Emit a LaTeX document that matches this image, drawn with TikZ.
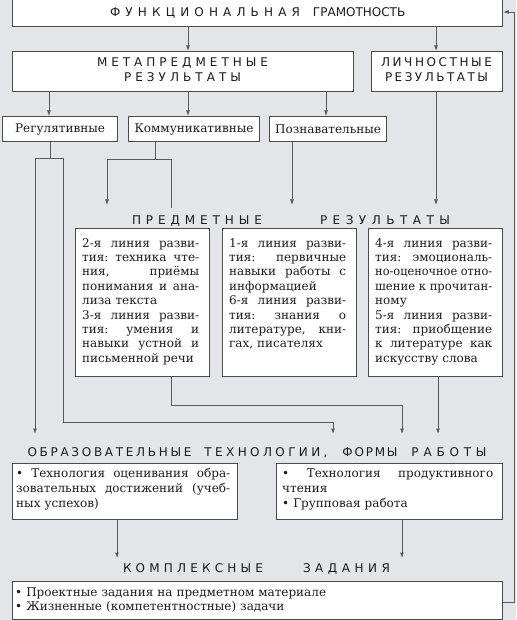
\documentclass[tikz,border=0pt]{standalone}
\usepackage{fontspec}
\usepackage{graphicx}
\setmainfont{DejaVu Serif}
\newfontfamily\hdfont{DejaVu Sans}
\usetikzlibrary{arrows.meta}
\setlength\parindent{0pt}
\frenchspacing
\tolerance=10000 \hyphenpenalty=10000 \hbadness=10000 \hfuzz=50pt
\ExplSyntaxOn
\NewDocumentCommand\sw{mm}{\makebox[#1][s]{\tl_map_inline:nn{#2}{##1\hfil}\unskip}}
\ExplSyntaxOff
\newcommand\fsp{\spaceskip=0pt\relax\xspaceskip=0pt\relax}
\newcommand\jl[1]{\sbox0{\fsp #1}\ifdim\wd0>\hsize\resizebox{\hsize}{\height}{\fsp #1}\else\makebox[\hsize][s]{\fsp #1}\fi}
\definecolor{bg}{RGB}{228,229,233}
\definecolor{bord}{RGB}{75,75,75}
\definecolor{lc}{RGB}{90,90,90}
\definecolor{txt}{RGB}{28,28,28}
\begin{document}
\begin{tikzpicture}[x=1pt,y=-1pt,
  bx/.style={draw=bord, fill=white, line width=1.1pt, inner sep=0pt, anchor=north west, text=txt,
    font=\fontsize{12}{14}\selectfont},
  hd/.style={font=\hdfont\fontsize{12}{12}\selectfont, inner sep=0pt, text height=8.7pt, text depth=0pt, text=txt},
  para/.style={inner sep=0pt, anchor=north west, text=txt, align=left,
    font=\fontsize{12}{14.4}\selectfont},
  ln/.style={draw=lc, line width=0.9pt},
  arr/.style={ln, -{Latex[length=5.5pt,width=4pt]}}]
\useasboundingbox (0,0) rectangle (516,620);
\fill[bg] (0,0) rectangle (516,620);
% boxes
\node[bx, minimum width=490, minimum height=28] (top) at (12,-2) {};
\node[hd] (htop) at (256.5,12) {\sw{190pt}{ФУНКЦИОНАЛЬНАЯ}\hspace{13pt}\sw{90pt}{ГРАМОТНОСТЬ}};
\node[bx, minimum width=341, minimum height=40] (meta) at (12,51) {};
\node[hd] (meta1) at (182.5,61.7) {\sw{171pt}{МЕТАПРЕДМЕТНЫЕ}};
\node[hd] (meta2) at (182.5,77.3) {\sw{117pt}{РЕЗУЛЬТАТЫ}};
\node[bx, minimum width=131, minimum height=40] (lich) at (371,51) {};
\node[hd] (lich1) at (436.5,61.7) {\sw{111pt}{ЛИЧНОСТНЫЕ}};
\node[hd] (lich2) at (436.5,77.3) {\sw{103pt}{РЕЗУЛЬТАТЫ}};
\node[bx, minimum width=115, minimum height=25] (reg) at (2,116) {Регулятивные};
\node[bx, minimum width=131, minimum height=25] (komm) at (128,116) {Коммуникативные};
\node[bx, minimum width=117, minimum height=25] (pozn) at (269,116) {Познавательные};
\node[hd] (pred) at (291,220) {\sw{130pt}{ПРЕДМЕТНЫЕ}\hspace{58pt}\sw{130pt}{РЕЗУЛЬТАТЫ}};
\node[bx, minimum width=134, minimum height=148] (p1) at (75,228) {};
\node[bx, minimum width=134, minimum height=148] (p2) at (222,228) {};
\node[bx, minimum width=134, minimum height=148] (p3) at (368,228) {};
\node[para, text width=117pt] (p1t) at (82,236.9) {\strut\jl{2-я линия разви-}\\ \jl{тия: техника чте-}\\ \jl{ния, приёмы}\\ \jl{понимания и ана-}\\ лиза текста\\ \jl{3-я линия разви-}\\ \jl{тия: умения и}\\ \jl{навыки устной и}\\ письменной речи};
\node[para, text width=117pt] (p2t) at (229,236.9) {\strut\jl{1-я линия разви-}\\ \jl{тия: первичные}\\ \jl{навыки работы с}\\ информацией\\ \jl{6-я линия разви-}\\ \jl{тия: знания о}\\ \jl{литературе, кни-}\\ гах, писателях};
\node[para, text width=117pt] (p3t) at (375,236.9) {\strut\jl{4-я линия разви-}\\ \jl{тия: эмоциональ-}\\ \jl{но-оценочное отно-}\\ \jl{шение к прочитан-}\\ ному\\ \jl{5-я линия разви-}\\ \jl{тия: приобщение}\\ \jl{к литературе как}\\ искусству слова};
\node[hd] (obr) at (257,451.7) {\sw{164pt}{ОБРАЗОВАТЕЛЬНЫЕ}\hspace{13pt}\sw{123pt}{ТЕХНОЛОГИИ,}\hspace{15pt}\sw{55pt}{ФОРМЫ}\hspace{14pt}\sw{75pt}{РАБОТЫ}};
\node[bx, minimum width=225, minimum height=56] (t1) at (12,463) {};
\node[bx, minimum width=226, minimum height=56] (t2) at (276,463) {};
\node[para, text width=214pt, font=\fontsize{12}{15}\selectfont] (t1t) at (16,466.5) {\strut\jl{• Технология оценивания обра-}\\ \jl{зовательных достижений (учеб-}\\ ных успехов)};
\node[para, text width=211pt, font=\fontsize{12}{15}\selectfont] (t2t) at (282,466.5) {\strut\jl{• Технология продуктивного}\\ чтения\\ • Групповая работа};
\node[hd] (komp) at (256.5,568.3) {\sw{140pt}{КОМПЛЕКСНЫЕ}\hspace{40pt}\sw{87pt}{ЗАДАНИЯ}};
\node[bx, minimum width=490, minimum height=38] (kz) at (12,581) {};
\node[para, text width=470pt, font=\fontsize{12}{14}\selectfont] (kzt) at (15,586.2) {\strut • Проектные задания на предметном материале\\ • Жизненные (компетентностные) задачи};
% coordinates
\coordinate (rj) at (50,158);
\coordinate (rjL) at (35,158);
\coordinate (rjR) at (63,158);
\coordinate (e1) at (35,434);
\coordinate (c1) at (333,422);
\coordinate (e2) at (333,434);
\coordinate (kj) at (155,159);
\coordinate (kjL) at (107,159);
\coordinate (kjR) at (171,159);
\coordinate (e3) at (107,205);
\coordinate (e4) at (171,208);
\coordinate (e5) at (292,205);
\coordinate (e6) at (436,205);
\coordinate (c2) at (402,405);
\coordinate (e7) at (402,434);
\coordinate (e8) at (438,434);
\coordinate (e9) at (117,558);
\coordinate (e10) at (402,558);
\coordinate (fbB) at (514.5,602);
\coordinate (fbT) at (514.5,12);
% connectors
\draw[arr] (top.south -| 188,0) -- (meta.north -| 188,0);
\draw[arr] (top.south -| 436,0) -- (lich.north -| 436,0);
\draw[arr] (meta.south -| 49,0) -- (reg.north -| 49,0);
\draw[arr] (meta.south -| 188,0) -- (komm.north -| 188,0);
\draw[arr] (meta.south -| 326,0) -- (pozn.north -| 326,0);
\draw[ln] (reg.south -| rj) -- (rj);
\draw[ln] (rjL) -- (rjR);
\draw[arr] (rjL) -- (e1);
\draw[arr] (rjR) |- (c1) -- (e2);
\draw[ln] (komm.south -| kj) -- (kj);
\draw[ln] (kjL) -- (kjR);
\draw[arr] (kjL) -- (e3);
\draw[ln] (kjR) -- (e4);
\draw[arr] (pozn.south -| e5) -- (e5);
\draw[arr] (lich.south -| e6) -- (e6);
\draw[arr] (p1.south -| 171,0) |- (c2) -- (e7);
\draw[arr] (p3.south -| e8) -- (e8);
\draw[arr] (t1.south -| e9) -- (e9);
\draw[arr] (t2.south -| e10) -- (e10);
\draw[arr] (kz.east |- fbB) -- (fbB) -- (fbT) -- (top.east |- fbT);
\end{tikzpicture}
\end{document}
